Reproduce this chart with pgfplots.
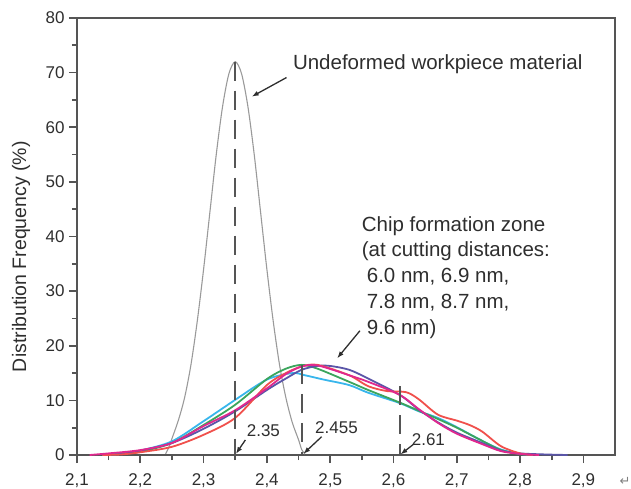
\documentclass[border=0pt]{standalone}
\usepackage{pgfplots}
\pgfplotsset{compat=1.18}
\usepackage{fontspec}
\setmainfont{Liberation Sans}
\newfontfamily\symfont{DejaVu Sans}
\usetikzlibrary{arrows.meta}

\definecolor{axgray}{HTML}{555555}
\definecolor{txt}{HTML}{2E2E2E}
\definecolor{peakgray}{HTML}{9A9A9A}
\definecolor{ccyan}{HTML}{38B6EC}
\definecolor{cgreen}{HTML}{3BA55C}
\definecolor{cnavy}{HTML}{5A55A8}
\definecolor{cred}{HTML}{F0504C}
\definecolor{cmagenta}{HTML}{E0288E}

% distribution of the undeformed workpiece material
\pgfplotstableread{
x y
2.240 0.2
2.245 1.4
2.250 3.0
2.260 6.3
2.270 10.5
2.280 16.5
2.290 24.5
2.300 34.0
2.310 44.5
2.320 55.0
2.330 63.8
2.340 69.8
2.350 72.0
2.360 69.8
2.370 63.8
2.380 55.0
2.390 44.5
2.400 34.0
2.410 24.5
2.420 16.5
2.430 10.5
2.440 6.0
2.450 2.8
2.455 1.0
2.460 0.2
}\undeformed

% chip formation zone, five cutting distances
\pgfplotstableread{
x y
2.14 0
2.17 0.2
2.20 0.8
2.25 2.5
2.30 6.2
2.35 10.1
2.40 13.8
2.44 15.0
2.46 14.6
2.49 13.8
2.53 12.8
2.56 11.4
2.61 9.5
2.64 8.0
2.67 6.8
2.70 5.1
2.74 2.6
2.77 1.0
2.80 0.2
2.82 0
}\cyanzone

\pgfplotstableread{
x y
2.14 0
2.17 0.2
2.20 0.6
2.25 2.2
2.30 5.5
2.35 9.2
2.40 13.9
2.43 15.8
2.455 16.5
2.48 15.8
2.53 13.4
2.56 11.9
2.61 9.6
2.64 8.1
2.67 6.6
2.70 5.0
2.74 2.6
2.77 0.9
2.80 0.2
2.82 0
}\greenzone

\pgfplotstableread{
x y
2.14 0
2.17 0.2
2.20 0.8
2.25 2.2
2.30 4.8
2.35 8.0
2.40 11.9
2.43 14.0
2.455 15.6
2.48 16.3
2.50 16.3
2.53 15.6
2.56 14.0
2.61 11.0
2.64 8.3
2.67 6.0
2.70 4.1
2.74 2.2
2.77 0.8
2.80 0.3
2.84 0.1
2.875 0
}\navyzone

\pgfplotstableread{
x y
2.14 0
2.17 0.1
2.20 0.5
2.25 1.5
2.30 3.7
2.35 6.8
2.40 12.8
2.43 15.0
2.455 16.2
2.48 16.5
2.53 14.6
2.56 12.6
2.59 11.7
2.62 11.5
2.64 10.2
2.67 7.4
2.70 6.3
2.72 5.5
2.74 4.3
2.77 1.6
2.80 0.3
2.82 0
}\redzone

\pgfplotstableread{
x y
2.12 0
2.15 0.3
2.20 0.9
2.25 2.2
2.30 5.3
2.35 8.2
2.40 12.2
2.43 14.8
2.455 16.2
2.48 16.4
2.53 14.6
2.56 13.4
2.61 11.0
2.64 8.4
2.67 5.9
2.70 3.9
2.74 2.0
2.77 0.7
2.80 0.2
2.83 0
}\magentazone

\begin{document}
\begin{tikzpicture}
\begin{axis}[
  scale only axis,
  width=538pt, height=437pt,
  xmin=2.1, xmax=2.95, ymin=0, ymax=80,
  xtick={2.1,2.2,2.3,2.4,2.5,2.6,2.7,2.8,2.9},
  ytick={0,10,20,30,40,50,60,70,80},
  minor x tick num=1, minor y tick num=1,
  tick pos=left,
  tick align=outside,
  major tick length=8pt, minor tick length=5pt,
  tick style={line width=1.7pt, color=axgray},
  axis line style={line width=1.8pt, color=axgray},
  ticklabel style={font=\fontsize{17}{19}\selectfont, text=txt},
  /pgf/number format/assume math mode=true,
  xticklabel style={yshift=-7pt, /pgf/number format/.cd, fixed, fixed zerofill, precision=1, use comma},
  yticklabel style={xshift=-1pt, /pgf/number format/.cd, fixed, precision=0},
  ylabel={Distribution Frequency (\%)},
  ylabel style={at={(axis description cs:-0.104,0.454)}, anchor=center,
    font=\fontsize{19.5}{22}\selectfont, text=txt},
  clip=false,
]
\coordinate (bl) at (rel axis cs:0,0);
\coordinate (br) at (rel axis cs:1,0);
\coordinate (tr) at (rel axis cs:1,1);

\addplot[peakgray, line width=1.1pt, smooth, tension=0.5] table {\undeformed};
\addplot[ccyan, line width=1.8pt, smooth] table {\cyanzone};
\addplot[cgreen, line width=1.8pt, smooth] table {\greenzone};
\addplot[cnavy, line width=1.8pt, smooth] table {\navyzone};
\addplot[cred, line width=1.8pt, smooth] table {\redzone};
\addplot[cmagenta, line width=1.8pt, smooth] table {\magentazone};

% peak positions
\begin{scope}[axgray, line width=2.3pt, dash pattern=on 19pt off 10pt]
  \draw (axis cs:2.35,72) -- (axis cs:2.35,0);
  \draw (axis cs:2.455,16.5) -- (axis cs:2.455,0);
  \draw (axis cs:2.61,12.6) -- (axis cs:2.61,0);
\end{scope}

\begin{scope}[txt, line width=1.3pt, -{Latex[length=7pt,width=5pt]}]
  \draw (axis cs:2.431,69.1) -- (axis cs:2.376,65.6);
  \draw (axis cs:2.547,22.75) -- (axis cs:2.511,17.7);
  \draw (axis cs:2.366,2.75) -- (axis cs:2.351,0.2);
  \draw (axis cs:2.4865,3.35) -- (axis cs:2.4575,0.2);
  \draw (axis cs:2.631,1.9) -- (axis cs:2.611,0.1);
\end{scope}

\begin{scope}[every node/.style={font=\fontsize{20.5}{24}\selectfont, text=txt, inner sep=0pt, anchor=base west}]
  \node at (axis cs:2.441,70.5) {Undeformed workpiece material};
  \node at (axis cs:2.5498,41.0) {Chip formation zone};
  \node at (axis cs:2.5498,36.25) {(at cutting distances:};
  \node at (axis cs:2.5577,31.6) {6.0 nm, 6.9 nm,};
  \node at (axis cs:2.5577,26.9) {7.8 nm, 8.7 nm,};
  \node at (axis cs:2.5577,22.15) {9.6 nm)};
\end{scope}

\begin{scope}[every node/.style={font=\fontsize{17}{20}\selectfont, text=txt, inner sep=0pt, anchor=base west}]
  \node at (axis cs:2.368,3.3) {2.35};
  \node at (axis cs:2.476,4.0) {2.455};
  \node at (axis cs:2.6287,1.8) {2.61};
\end{scope}
\end{axis}

\node[font=\symfont\fontsize{13}{15}\selectfont, text=gray, inner sep=0pt]
  at ([shift={(10pt,-26pt)}]br) {↵};

\pgfresetboundingbox
\path[use as bounding box] ([shift={(-77pt,-33pt)}]bl) rectangle ([shift={(16pt,18pt)}]tr);
\end{tikzpicture}
\end{document}
